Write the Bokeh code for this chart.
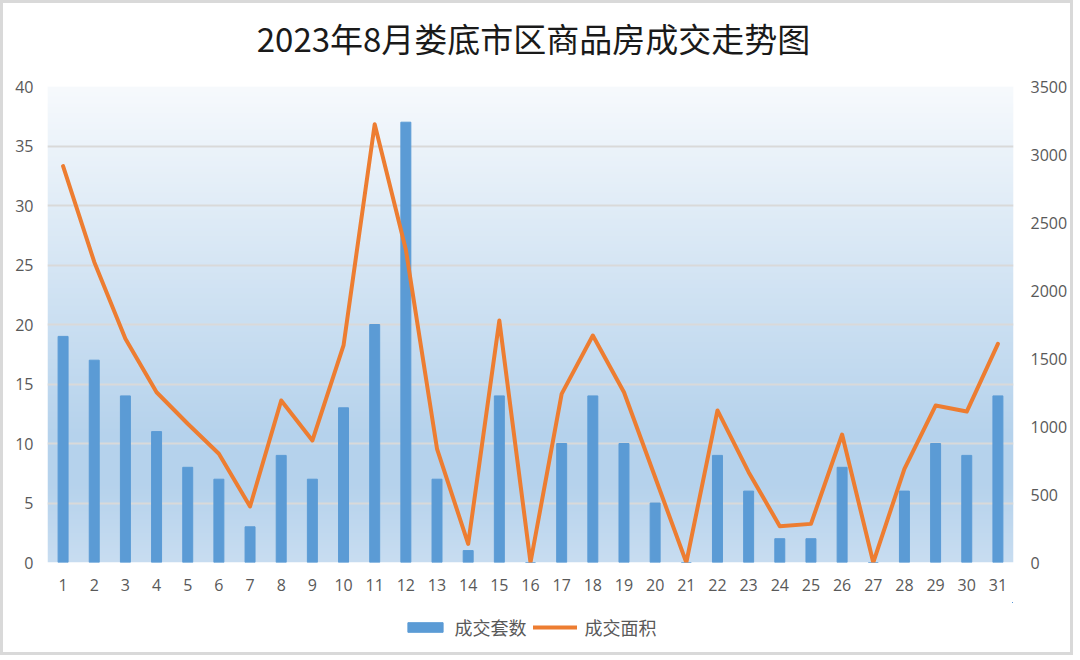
import numpy as np
from bokeh.plotting import figure
from bokeh.layouts import column
from bokeh.core.properties import value
from bokeh.models import (Range1d, LinearAxis, FixedTicker, Legend, LegendItem,
                          ColumnDataSource)
from bokeh.embed import file_html
from bokeh.resources import INLINE

# ---- data ----
days = [1, 2, 3, 4, 5, 6, 7, 8, 9, 10, 11, 12, 13, 14, 15, 16,
        17, 18, 19, 20, 21, 22, 23, 24, 25, 26, 27, 28, 29, 30, 31]
day_labels = [str(d) for d in days]
units = [19, 17, 14, 11, 8, 7, 3, 9, 7, 13, 20, 37, 7, 1, 14, 0,
         10, 14, 10, 5, 0, 9, 6, 2, 2, 8, 0, 6, 10, 9, 14]
area = [2915, 2210, 1645, 1252, 1020, 800, 412, 1191, 897, 1596, 3222, 2300, 836, 137, 1779, 0,
        1240, 1669, 1252, 627, 0, 1118, 664, 267, 284, 941, 0, 689, 1154, 1110, 1608]
left_ticks = [0, 5, 10, 15, 20, 25, 30, 35, 40]
right_ticks = [0, 500, 1000, 1500, 2000, 2500, 3000, 3500]
title_text = "2023年8月娄底市区商品房成交走势图"
series_names = ["成交套数", "成交面积"]

BAR = "#5B9BD5"
LINE = "#ED7D31"
TXT = "#595959"
GRID = "#d9d9d9"
TICK_FONT = "Open Sans"
CJK = "Noto Sans CJK SC"

FULL_W = 44 + 966 + 56

x_lo, x_hi = days[0] - 0.5, days[-1] + 0.5
y_lo, y_hi = left_ticks[0], left_ticks[-1]

# ---- title strip ----
tf = figure(width=FULL_W, height=71, output_backend="svg", toolbar_location=None,
            x_range=Range1d(0, 1), y_range=Range1d(0, 1), min_border=0)
tf.axis.visible = False
tf.grid.visible = False
tf.outline_line_color = None
tf.background_fill_color = "white"
tf.border_fill_color = "white"
tf.text(x=[0.5037], y=[0.514], text=[title_text], text_font=value(CJK),
        text_font_size="33px", text_color="#1a1a1a", text_align="center",
        text_baseline="middle")

# ---- main chart ----
p = figure(frame_width=966, frame_height=476, output_backend="svg", toolbar_location=None,
           x_range=Range1d(x_lo, x_hi), y_range=Range1d(y_lo, y_hi),
           min_border_left=44, min_border_right=56, min_border_top=12, min_border_bottom=40)
p.extra_y_ranges = {"area": Range1d(right_ticks[0], right_ticks[-1])}
p.background_fill_color = "white"
p.border_fill_color = "white"
p.outline_line_color = None

# background gradient (Excel light gradient)
N = 400
t = np.linspace(1.0, 0.0, N)  # row 0 bottom -> t=1 (bottom), top t=0
stops = [0.0, 0.74, 0.83, 1.0]
cols = np.array([[247, 250, 253], [181, 210, 236], [181, 210, 236], [200, 221, 241]])
r = np.interp(t, stops, cols[:, 0]).astype(np.uint32)
g = np.interp(t, stops, cols[:, 1]).astype(np.uint32)
b = np.interp(t, stops, cols[:, 2]).astype(np.uint32)
rgba = (255 << 24) | (b << 16) | (g << 8) | r
img = np.repeat(rgba[:, None], 2, axis=1).astype(np.uint32)
p.image_rgba(image=[img], x=x_lo, y=y_lo, dw=x_hi - x_lo, dh=y_hi - y_lo, level="image")

src = ColumnDataSource(dict(day=days, units=units, area=area))
bars = p.vbar(x="day", top="units", width=0.32, color=BAR, source=src)
line = p.line(x="day", y="area", y_range_name="area", color=LINE, line_width=4,
              line_join="round", line_cap="round", source=src)

# axes
p.xaxis.ticker = FixedTicker(ticks=days)
p.xaxis.major_label_overrides = {d: l for d, l in zip(days, day_labels)}
p.yaxis.ticker = FixedTicker(ticks=left_ticks)
right = LinearAxis(y_range_name="area", ticker=FixedTicker(ticks=right_ticks))
p.add_layout(right, "right")
for ax in p.axis:
    ax.axis_line_color = None
    ax.major_tick_line_color = None
    ax.minor_tick_line_color = None
    ax.major_label_text_font = TICK_FONT
    ax.major_label_text_font_size = "16px"
    ax.major_label_text_color = TXT
p.xaxis.major_label_standoff = 10
p.yaxis.major_label_standoff = 8
right.major_label_standoff = 11

p.xgrid.grid_line_color = None
p.ygrid.ticker = FixedTicker(ticks=left_ticks)
p.ygrid.grid_line_color = GRID
p.ygrid.grid_line_width = 2

# ---- legend strip (same series, drawn off-range so only the legend shows) ----
lf = figure(width=FULL_W, height=50, output_backend="svg", toolbar_location=None,
            x_range=Range1d(-20, -19), y_range=Range1d(-20, -19), min_border=0)
lf.axis.visible = False
lf.grid.visible = False
lf.outline_line_color = None
lf.background_fill_color = "white"
lf.border_fill_color = "white"
lbar = lf.vbar(x="day", top="units", width=0.32, color=BAR, source=src)
lline = lf.line(x="day", y="area", color=LINE, line_width=4, line_cap="round", source=src)

legend = Legend(items=[LegendItem(label=series_names[0], renderers=[lbar]),
                       LegendItem(label=series_names[1], renderers=[lline])],
                orientation="horizontal", location="center")
legend.border_line_color = None
legend.background_fill_alpha = 0
legend.label_text_font = CJK
legend.label_text_font_size = "18px"
legend.label_text_color = TXT
legend.glyph_width = 44
legend.glyph_height = 12
legend.label_standoff = 8
legend.spacing = 6
legend.padding = 0
legend.margin = 0
lf.add_layout(legend, "center")

layout = column(tf, p, lf, spacing=0)
layout.styles = {"border": "3px solid #d9d9d9"}

open("out.html", "w").write(file_html(layout, INLINE))
